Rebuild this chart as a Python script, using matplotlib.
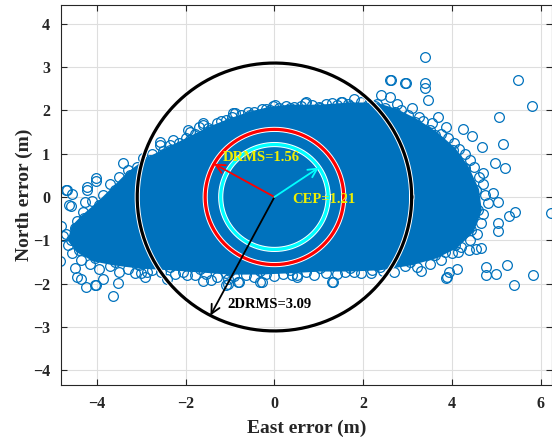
import numpy as np
import matplotlib
matplotlib.use("Agg")
import matplotlib.pyplot as plt

# ---------------- data ----------------
# outline of the dense core of the error cloud (east, north) in metres
core_east = [-4.57, -4.50, -4.28, -3.94, -3.60, -3.26, -2.81, -2.36, -1.91, -1.46,
             -1.00, -0.55, -0.10, 0.35, 1.03, 1.70, 2.27, 2.72, 3.17, 3.62,
             4.01, 4.30, 4.53, 4.59, 4.42, 4.07, 3.62, 3.06, 2.38, 1.70,
             1.03, 0.35, -0.33, -1.00, -1.68, -2.36, -3.04, -3.60, -4.05, -4.39]
core_north = [-0.99, -0.71, -0.48, -0.18, 0.16, 0.51, 0.85, 1.08, 1.31, 1.54,
              1.73, 1.89, 2.00, 2.05, 2.05, 2.10, 2.10, 1.96, 1.73, 1.43,
              1.08, 0.67, 0.16, -0.30, -0.76, -1.11, -1.34, -1.50, -1.61, -1.64,
              -1.64, -1.68, -1.71, -1.71, -1.66, -1.61, -1.57, -1.50, -1.41, -1.22]

# samples on the ragged rim of the cloud (east, north) in metres
rim_east = [-4.45, -4.30, -4.10, -3.85, -3.70, -3.50, -3.30, -3.10, -2.95, -2.75, -2.50,
            -2.35, -2.15, -2.00, -1.80, -1.70, -1.50, -1.30, -1.20, -0.95, -0.75, -0.60,
            -0.45, -0.20, 0.10, 0.25, 0.45, 0.60, 0.85, 1.00, 1.15, 1.40, 1.65, 1.95,
            2.10, 2.30, 2.50, 2.60, 2.75, 2.85, 3.00, 3.10, 3.25, 3.35, 3.55, 3.50,
            3.75, 3.90, 4.05, 4.15, 4.30, 4.40, 4.50, 4.60, 4.70, 4.75, 4.80, 4.70,
            4.65, 4.55, 4.40, 4.20, 4.00, 3.75, 3.50, 3.20, 2.95, 2.70, 2.45, 2.20,
            1.95, 1.60, 1.40, 1.15, 0.90, 0.70, 0.40, 0.20, 0.00, -0.20, -0.45, -0.65,
            -0.90, -1.10, -1.30, -1.55, -1.80, -2.05, -2.25, -2.55, -2.75, -3.00,
            -3.30, -3.50, -3.70, -3.95, -4.15, -4.35, -4.55, -4.65, -4.70, -1.05, -1.05]
rim_north = [-0.55, -0.35, -0.10, 0.05, 0.30, 0.45, 0.62, 0.70, 0.90, 1.00, 1.05,
             1.20, 1.25, 1.35, 1.45, 1.62, 1.60, 1.70, 1.75, 1.85, 1.90, 1.97,
             1.95, 2.02, 2.05, 2.10, 2.08, 2.10, 2.12, 2.08, 2.15, 2.12, 2.15, 2.18,
             2.12, 2.15, 2.05, 2.30, 2.15, 2.00, 1.90, 2.05, 1.85, 1.75, 1.70, 1.55,
             1.45, 1.35, 1.25, 1.10, 1.00, 0.85, 0.70, 0.45, 0.30, 0.05, -0.15, -0.40,
             -0.60, -0.85, -1.00, -1.15, -1.30, -1.45, -1.55, -1.62, -1.60, -1.72, -1.70, -1.68,
             -1.75, -1.72, -1.78, -1.75, -1.80, -1.72, -1.80, -1.78, -1.82, -1.78, -1.85, -1.80,
             -1.82, -1.75, -1.85, -1.78, -1.80, -1.72, -1.78, -1.72, -1.68, -1.75,
             -1.65, -1.72, -1.60, -1.65, -1.55, -1.45, -1.30, -1.10, -0.85, -1.90, -2.00]

# individual fringe / outlier samples (east, north) in metres
pts_east = [-1.61, -1.91, -1.08, -0.89, -0.33, 0.01, 0.69, 1.29, 1.52, -2.28, -2.58,
            -0.93, -1.61, -1.95, -2.58, -3.41, -4.01, -4.69, -4.62, -0.29, -0.03,
            0.70, 1.50, 1.80, 2.63, 2.97, 3.40, 3.40, 3.46, 3.68, 3.87, 4.25, 4.44,
            4.68, 4.96, 5.19, 4.70, 4.93, 5.04, 5.41, 5.49, 5.81, 5.06, 5.14, 2.40,
            2.61, 3.40, 2.95,
            -4.82, -4.77, -4.80, -4.24, -4.01, -3.64, -3.53, -3.86, -4.35, -2.88,
            -2.43, -1.61, -1.08, -0.82, -0.29, -1.98, -4.68, -4.56, -4.59, -4.23,
            -4.23, -4.01, -4.26, -4.05, -4.44, -4.50, -3.15, -2.91,
            0.51, 1.31, 1.80, 2.18, 3.31, 3.89, 4.10, 4.77, 5.00, 5.23, 5.39, 5.83,
            4.77, 3.83, 4.14, 4.38, 4.66, 5.04, 5.04, 6.22, 5.29, 3.92, 3.87, 4.53,
            -0.33, -0.79, -1.43, 1.29, 0.50]
pts_north = [1.70, 1.50, 1.77, 1.93, 1.89, 2.12, 2.16, 2.16, 2.20, 1.31, 1.20,
             1.93, 1.66, 1.54, 1.27, 0.78, 0.43, 0.16, -0.18, 2.04, 2.10,
             2.20, 2.20, 2.25, 2.70, 2.62, 3.22, 2.62, 2.24, 1.85, 1.62, 1.57, 1.41,
             1.15, 0.78, 0.66, 0.55, 0.10, -0.11, -0.34, 2.71, 2.10, 1.85, 1.22, 2.35,
             2.71, 2.52, 2.62,
             -1.47, -0.89, -0.68, -2.08, -2.03, -2.29, -1.99, -1.89, -1.89, -1.74,
             -1.89, -1.93, -2.04, -1.97, -1.97, -1.81, 0.15, 0.07, -0.21, 0.24,
             0.15, 0.38, -0.12, -2.03, -1.85, -1.64, -1.76, -1.84,
             -1.81, -1.97, -1.74, -1.76, -1.70, -1.85, -1.67, -1.62, -1.77, -1.58, -2.02, -1.80,
             -1.79, -1.28, -1.28, -1.22, -1.18, -0.78, -0.60, -0.38, -0.45, -1.72, -1.87, -1.21,
             -1.97, -1.97, -1.91, -1.97, -1.84]

# accuracy statistics (m)
cep = 1.21
drms = 1.56
two_drms = 3.09

x_ticks = [-4, -2, 0, 2, 4, 6]
y_ticks = [-4, -3, -2, -1, 0, 1, 2, 3, 4]

# ---------------- plot ----------------
plt.rcParams['font.family'] = ['Liberation Serif', 'DejaVu Serif']
plt.rcParams['font.weight'] = 'bold'

blue = '#0072BD'
fig = plt.figure(figsize=(5.52, 4.38), dpi=100)
ax = fig.add_axes([0.111, 0.1217, 0.889, 0.867])

ax.set_axisbelow(True)
ax.grid(True, color='#dedede', lw=0.8)

ax.fill(core_east, core_north, facecolor=blue, edgecolor=blue, lw=5,
        joinstyle='round', zorder=2)
mk = dict(ls='none', marker='o', mfc='none', mec=blue, ms=7, mew=0.9, zorder=2)
ax.plot(core_east, core_north, **mk)
ax.plot(rim_east, rim_north, **mk)
ax.plot(pts_east, pts_north, **mk)

th = np.linspace(0, 2 * np.pi, 400)
for r, col, lw in [(two_drms, 'black', 2.3), (drms, 'red', 2.3), (cep, 'cyan', 2.3)]:
    ax.plot(r * np.cos(th), r * np.sin(th), color='white', lw=lw + 1.4, zorder=3)
    ax.plot(r * np.cos(th), r * np.sin(th), color=col, lw=lw, zorder=4)

def arrow(r, ang_deg, col):
    a = np.deg2rad(ang_deg)
    ax.annotate('', xy=(r * np.cos(a), r * np.sin(a)), xytext=(0, 0),
                arrowprops=dict(arrowstyle='->', color=col, lw=1.3,
                                mutation_scale=16, shrinkA=0, shrinkB=0),
                zorder=5)

arrow(two_drms, 242.2, 'black')
arrow(drms, 150.6, 'red')
arrow(cep, 34.2, 'cyan')

ax.text(-1.16, 0.90, 'DRMS=%.2f' % drms, color='#f0f000', fontsize=10.5,
        fontweight='bold', va='center', ha='left', zorder=6)
ax.text(0.39, -0.05, 'CEP=%.2f' % cep, color='#f0f000', fontsize=10.5,
        fontweight='bold', va='center', ha='left', zorder=6)
ax.text(-1.05, -2.49, '2DRMS=%.2f' % two_drms, color='black', fontsize=10.5,
        fontweight='bold', va='center', ha='left', zorder=6)

ax.set_xlim(-4.8, 6.25)
ax.set_ylim(-4.33, 4.43)
ax.set_xticks(x_ticks)
ax.set_yticks(y_ticks)
ax.tick_params(direction='in', top=True, right=True, length=4, width=0.8,
               labelsize=11.5, colors='#262626', pad=8)
for lab in ax.get_xticklabels() + ax.get_yticklabels():
    lab.set_fontweight('bold')
for s in ax.spines.values():
    s.set_color('#262626')
    s.set_linewidth(0.8)

ax.set_xlabel('East error (m)', fontsize=14, fontweight='bold', color='#262626', labelpad=6)
ax.set_ylabel('North error (m)', fontsize=14, fontweight='bold', color='#262626', labelpad=0)

fig.savefig('out.png', dpi=100)
